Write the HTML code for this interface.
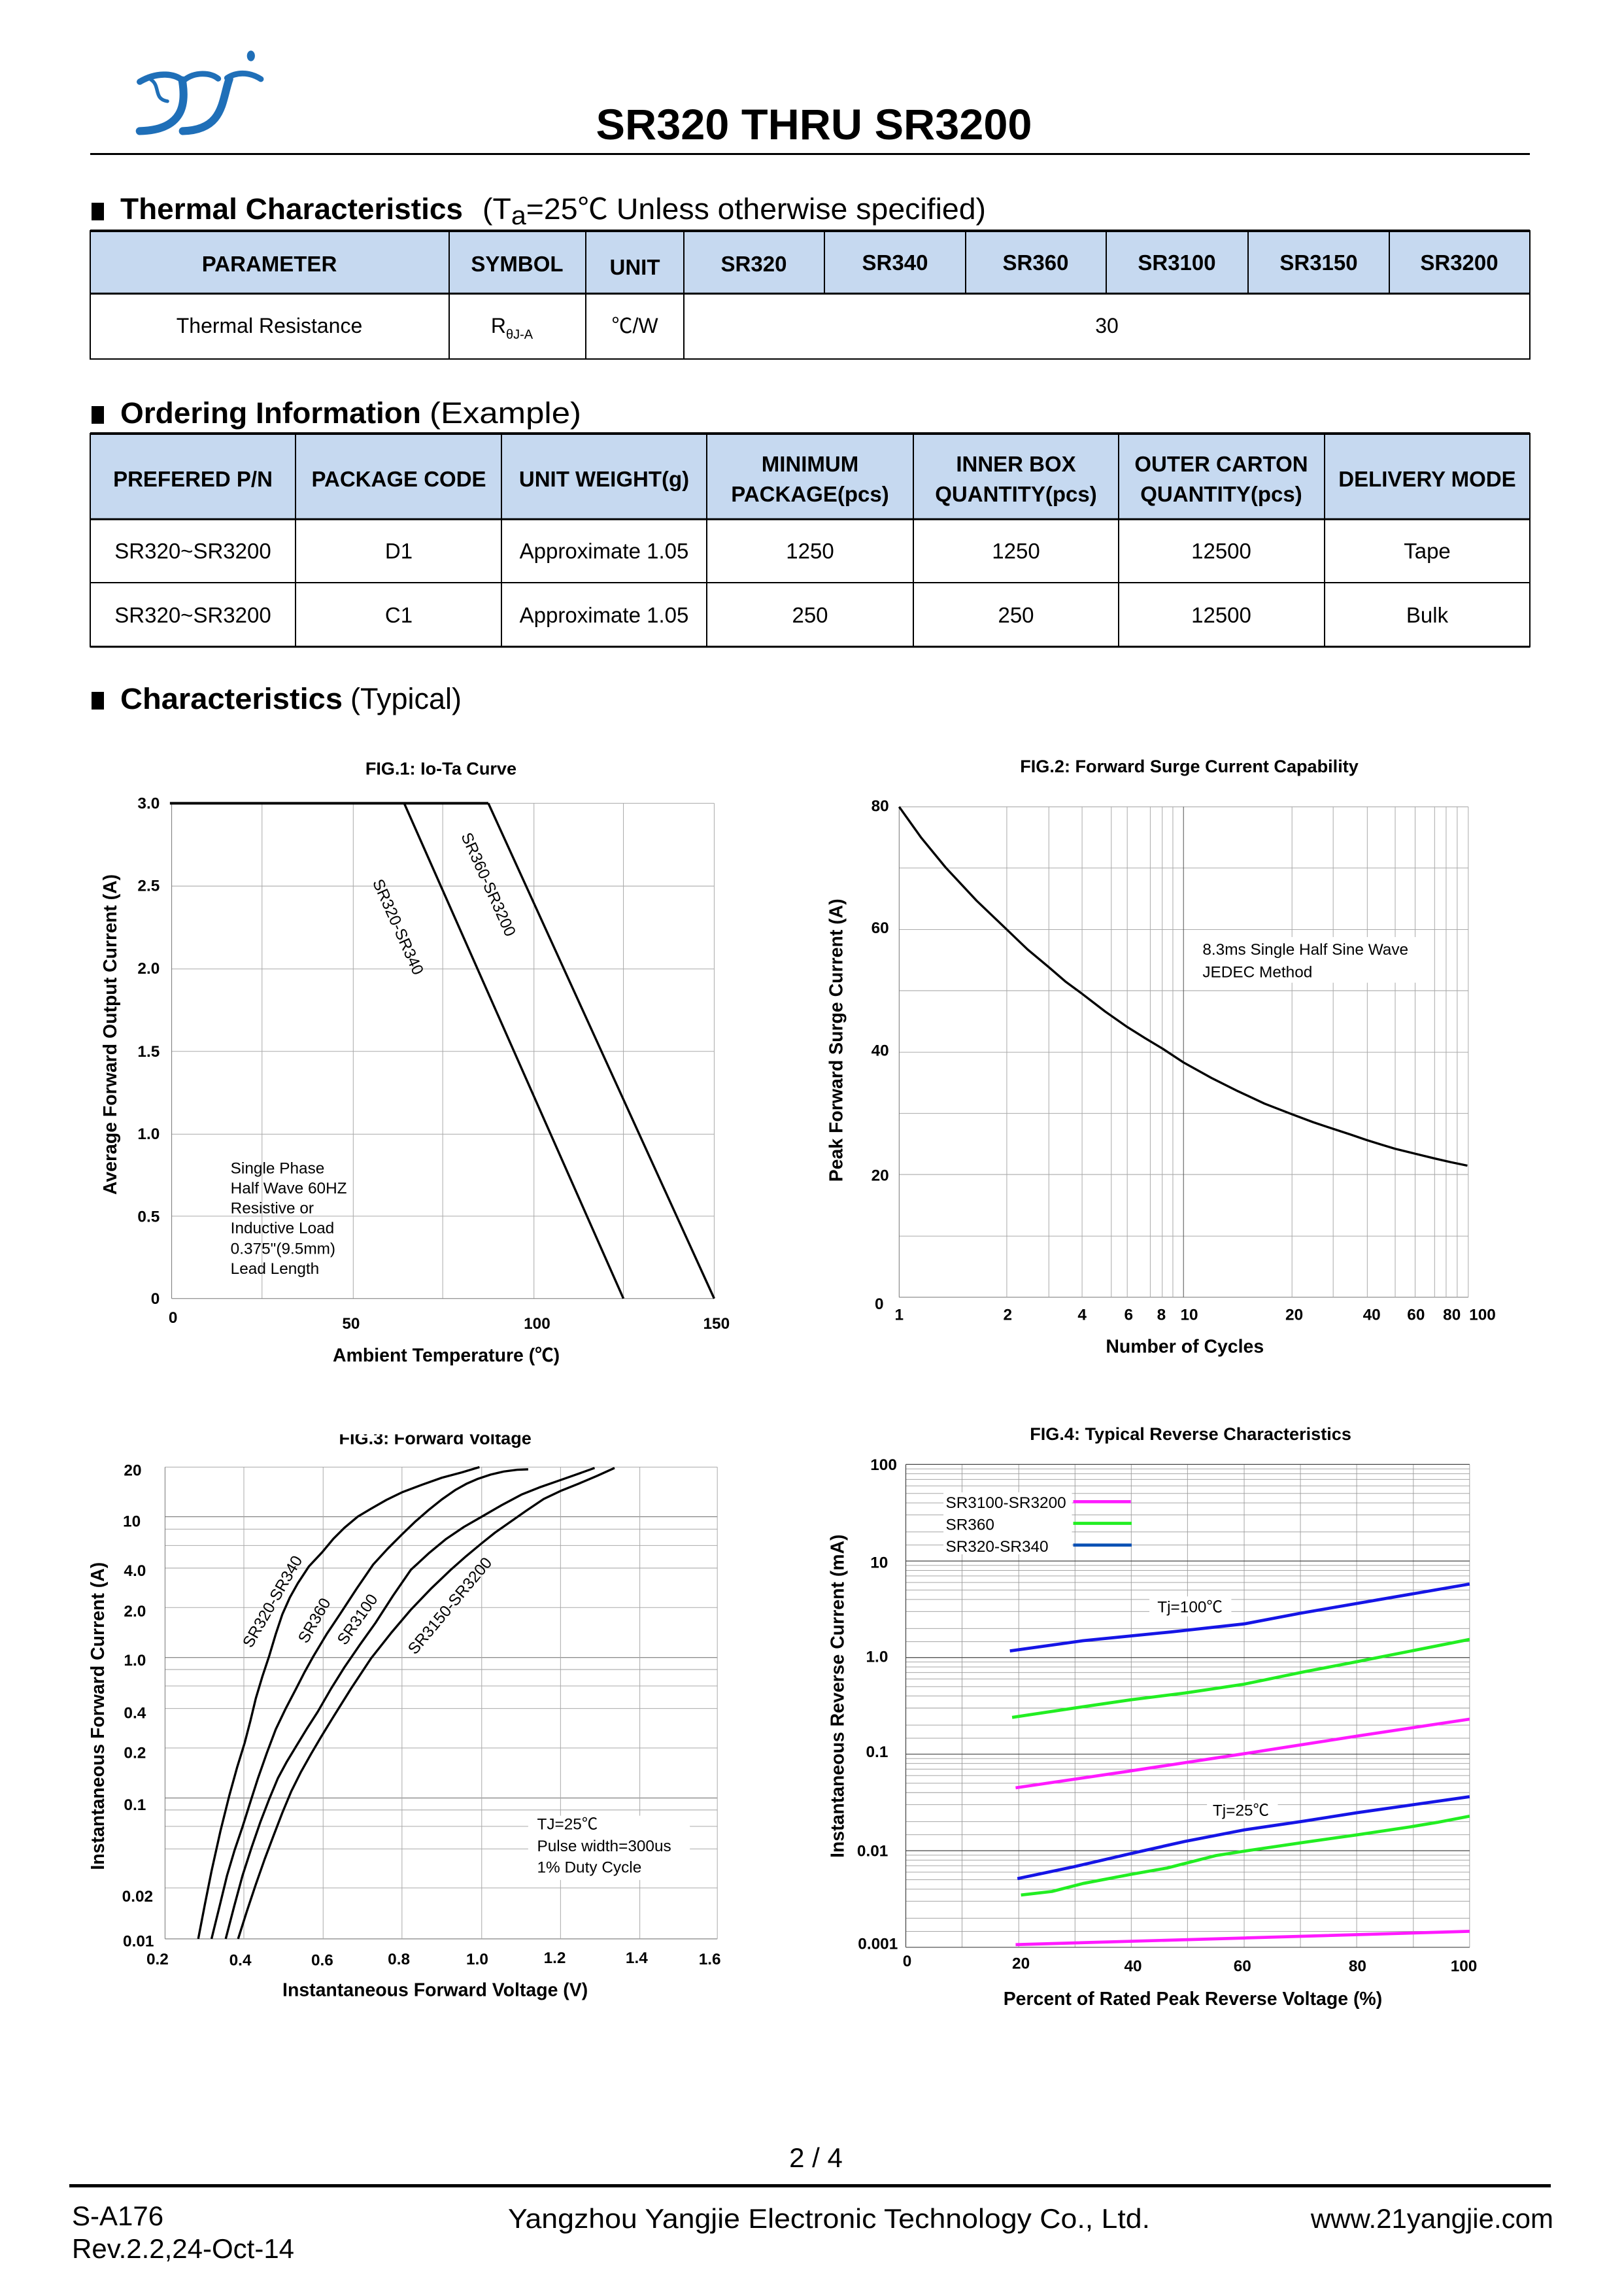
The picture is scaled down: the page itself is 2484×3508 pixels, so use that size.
<!DOCTYPE html>
<html><head><meta charset="utf-8"><style>
html,body{margin:0;padding:0;background:#fff;}
svg{display:block;}
text{font-family:"Liberation Sans","Noto Sans CJK SC",sans-serif;}
</style></head><body>
<svg width="2484" height="3508" viewBox="0 0 2484 3508" xmlns="http://www.w3.org/2000/svg">
<rect width="2484" height="3508" fill="#fff"/>

<!-- Logo -->
<g transform="translate(180,50) scale(0.338)" fill="none" stroke="#1f6fb8" stroke-linecap="round">
  <path d="M100,222 C170,180 250,180 292,215" stroke-width="28"/>
  <path d="M292,215 C310,320 300,440 100,445" stroke-width="36"/>
  <path d="M150,212 C195,240 160,300 225,310" stroke-width="16"/>
  <path d="M300,215 C350,175 420,180 455,208" stroke-width="26"/>
  <path d="M505,210 C470,310 480,440 295,445" stroke-width="36"/>
  <path d="M495,205 C550,170 610,185 648,210" stroke-width="26"/>
  <ellipse cx="603" cy="105" rx="18" ry="24" fill="#1f6fb8" stroke="none"/>
</g>

<!-- Title -->
<text x="1245" y="213" font-size="66" font-weight="bold" text-anchor="middle" textLength="667" lengthAdjust="spacingAndGlyphs">SR320 THRU SR3200</text>
<rect x="138" y="234" width="2202" height="3" fill="#000"/>

<!-- Thermal heading -->
<rect x="140" y="310" width="19" height="27" fill="#000"/>
<text x="184" y="335" font-size="45" font-weight="bold" textLength="524" lengthAdjust="spacingAndGlyphs">Thermal Characteristics</text>
<text x="738" y="335" font-size="45" textLength="770" lengthAdjust="spacingAndGlyphs">(T<tspan font-size="40" dy="8">a</tspan><tspan dy="-8">=25℃ Unless otherwise specified)</tspan></text>

<!-- Table 1 -->
<rect x="138" y="353" width="2202" height="96" fill="#c6d9f0"/>
<g stroke="#000" stroke-width="2" fill="none">
  <rect x="138" y="353" width="2202" height="196"/>
  <line x1="138" y1="353" x2="2340" y2="353" stroke-width="4"/>
  <line x1="138" y1="449" x2="2340" y2="449" stroke-width="3"/>
  <line x1="687" y1="353" x2="687" y2="549"/>
  <line x1="896" y1="353" x2="896" y2="549"/>
  <line x1="1046" y1="353" x2="1046" y2="549"/>
  <line x1="1261" y1="353" x2="1261" y2="449"/>
  <line x1="1477" y1="353" x2="1477" y2="449"/>
  <line x1="1692" y1="353" x2="1692" y2="449"/>
  <line x1="1909" y1="353" x2="1909" y2="449"/>
  <line x1="2125" y1="353" x2="2125" y2="449"/>
</g>
<g font-size="33" font-weight="bold" text-anchor="middle">
  <text x="412" y="415">PARAMETER</text>
  <text x="791" y="415">SYMBOL</text>
  <text x="971" y="420">UNIT</text>
  <text x="1153" y="415">SR320</text>
  <text x="1369" y="413">SR340</text>
  <text x="1584" y="413">SR360</text>
  <text x="1800" y="413">SR3100</text>
  <text x="2017" y="413">SR3150</text>
  <text x="2232" y="413">SR3200</text>
</g>
<g font-size="32" text-anchor="middle">
  <text x="412" y="509">Thermal Resistance</text>
  <text x="783" y="509">R<tspan font-size="20" dy="9">θJ-A</tspan></text>
  <text x="971" y="509">℃/W</text>
  <text x="1693" y="509">30</text>
</g>

<!-- Ordering heading -->
<rect x="140" y="621" width="19" height="27" fill="#000"/>
<text x="184" y="647" font-size="45" font-weight="bold" textLength="460" lengthAdjust="spacingAndGlyphs">Ordering Information</text>
<text x="657" y="647" font-size="45" textLength="232" lengthAdjust="spacingAndGlyphs">(Example)</text>

<!-- Table 2 -->
<rect x="138" y="663" width="2202" height="131" fill="#c6d9f0"/>
<g stroke="#000" stroke-width="2" fill="none">
  <rect x="138" y="663" width="2202" height="326"/>
  <line x1="138" y1="663" x2="2340" y2="663" stroke-width="4"/>
  <line x1="138" y1="794" x2="2340" y2="794" stroke-width="3"/>
  <line x1="138" y1="891" x2="2340" y2="891"/>
  <line x1="138" y1="989" x2="2340" y2="989" stroke-width="3"/>
  <line x1="452" y1="663" x2="452" y2="989"/>
  <line x1="767" y1="663" x2="767" y2="989"/>
  <line x1="1081" y1="663" x2="1081" y2="989"/>
  <line x1="1397" y1="663" x2="1397" y2="989"/>
  <line x1="1711" y1="663" x2="1711" y2="989"/>
  <line x1="2026" y1="663" x2="2026" y2="989"/>
</g>
<g font-size="33" font-weight="bold" text-anchor="middle">
  <text x="295" y="744">PREFERED P/N</text>
  <text x="610" y="744">PACKAGE CODE</text>
  <text x="924" y="744">UNIT WEIGHT(g)</text>
  <text x="1239" y="721">MINIMUM</text>
  <text x="1239" y="767">PACKAGE(pcs)</text>
  <text x="1554" y="721">INNER BOX</text>
  <text x="1554" y="767">QUANTITY(pcs)</text>
  <text x="1868" y="721">OUTER CARTON</text>
  <text x="1868" y="767">QUANTITY(pcs)</text>
  <text x="2183" y="744">DELIVERY MODE</text>
</g>
<g font-size="33" text-anchor="middle">
  <text x="295" y="854">SR320~SR3200</text>
  <text x="610" y="854">D1</text>
  <text x="924" y="854">Approximate 1.05</text>
  <text x="1239" y="854">1250</text>
  <text x="1554" y="854">1250</text>
  <text x="1868" y="854">12500</text>
  <text x="2183" y="854">Tape</text>
  <text x="295" y="952">SR320~SR3200</text>
  <text x="610" y="952">C1</text>
  <text x="924" y="952">Approximate 1.05</text>
  <text x="1239" y="952">250</text>
  <text x="1554" y="952">250</text>
  <text x="1868" y="952">12500</text>
  <text x="2183" y="952">Bulk</text>
</g>

<!-- Characteristics heading -->
<rect x="140" y="1058" width="19" height="27" fill="#000"/>
<text x="184" y="1084" font-size="45" font-weight="bold" textLength="340" lengthAdjust="spacingAndGlyphs">Characteristics</text>
<text x="536" y="1084" font-size="45" textLength="170" lengthAdjust="spacingAndGlyphs">(Typical)</text>

<!-- FIG 1 -->
<g transform="translate(100,1120) scale(0.67742)">
  <g stroke="#aaa" stroke-width="1.5">
    <line x1="444" y1="160" x2="444" y2="1278"/><line x1="650" y1="160" x2="650" y2="1278"/>
    <line x1="852" y1="160" x2="852" y2="1278"/><line x1="1058" y1="160" x2="1058" y2="1278"/>
    <line x1="1260" y1="160" x2="1260" y2="1278"/><line x1="1465" y1="160" x2="1465" y2="1278"/>
    <line x1="240" y1="160" x2="1465" y2="160"/><line x1="240" y1="347" x2="1465" y2="347"/>
    <line x1="240" y1="534" x2="1465" y2="534"/><line x1="240" y1="720" x2="1465" y2="720"/>
    <line x1="240" y1="907" x2="1465" y2="907"/><line x1="240" y1="1092" x2="1465" y2="1092"/>
    <line x1="240" y1="1278" x2="1465" y2="1278" stroke="#777"/>
    <line x1="240" y1="160" x2="240" y2="1278" stroke="#777"/>
  </g>
  <g stroke="#000" stroke-width="5" fill="none">
    <line x1="236" y1="160" x2="955" y2="160" stroke-width="6"/>
    <line x1="765" y1="160" x2="1260" y2="1278"/>
    <line x1="955" y1="160" x2="1465" y2="1278"/>
  </g>
  <text x="848" y="95" font-size="40" font-weight="bold" text-anchor="middle">FIG.1: Io-Ta Curve</text>
  <g font-size="36" font-weight="bold" text-anchor="end">
    <text x="213" y="172">3.0</text><text x="213" y="358">2.5</text><text x="213" y="545">2.0</text>
    <text x="213" y="732">1.5</text><text x="213" y="918">1.0</text><text x="213" y="1105">0.5</text>
    <text x="213" y="1290">0</text>
  </g>
  <g font-size="36" font-weight="bold" text-anchor="middle">
    <text x="243" y="1333">0</text><text x="645" y="1346">50</text><text x="1065" y="1346">100</text><text x="1470" y="1346">150</text>
  </g>
  <text x="860" y="1420" font-size="42" font-weight="bold" text-anchor="middle">Ambient Temperature (℃)</text>
  <text transform="translate(115,682) rotate(-90)" font-size="42" font-weight="bold" text-anchor="middle">Average Forward Output Current (A)</text>
  <g font-size="36">
    <text x="373" y="996">Single Phase</text><text x="373" y="1041">Half Wave 60HZ</text>
    <text x="373" y="1086">Resistive or</text><text x="373" y="1131">Inductive Load</text>
    <text x="373" y="1177">0.375"(9.5mm)</text><text x="373" y="1222">Lead Length</text>
  </g>
  <text transform="translate(893,233) rotate(66)" font-size="36">SR360-SR3200</text>
  <text transform="translate(693,338) rotate(66)" font-size="36">SR320-SR340</text>
</g>

<!-- FIG 2 -->
<g transform="translate(1250,1120) scale(0.67742)">
  <g stroke="#aaa" stroke-width="1.5">
    <line x1="185" y1="168" x2="1470" y2="168"/><line x1="185" y1="306" x2="1470" y2="306"/>
    <line x1="185" y1="445" x2="1470" y2="445"/><line x1="185" y1="583" x2="1470" y2="583"/>
    <line x1="185" y1="722" x2="1470" y2="722"/><line x1="185" y1="860" x2="1470" y2="860"/>
    <line x1="185" y1="998" x2="1470" y2="998"/><line x1="185" y1="1137" x2="1470" y2="1137"/>
    <line x1="185" y1="1275" x2="1470" y2="1275" stroke="#777"/>
    <line x1="185" y1="168" x2="185" y2="1275" stroke="#777"/>
    <line x1="428" y1="168" x2="428" y2="1275"/><line x1="523" y1="168" x2="523" y2="1275"/>
    <line x1="598" y1="168" x2="598" y2="1275"/><line x1="664" y1="168" x2="664" y2="1275"/>
    <line x1="700" y1="168" x2="700" y2="1275"/><line x1="752" y1="168" x2="752" y2="1275"/>
    <line x1="779" y1="168" x2="779" y2="1275"/><line x1="803" y1="168" x2="803" y2="1275"/>
    <line x1="827" y1="168" x2="827" y2="1275" stroke="#555"/>
    <line x1="1072" y1="168" x2="1072" y2="1275"/><line x1="1165" y1="168" x2="1165" y2="1275"/>
    <line x1="1242" y1="168" x2="1242" y2="1275"/><line x1="1305" y1="168" x2="1305" y2="1275"/>
    <line x1="1350" y1="168" x2="1350" y2="1275"/><line x1="1394" y1="168" x2="1394" y2="1275"/>
    <line x1="1420" y1="168" x2="1420" y2="1275"/><line x1="1445" y1="168" x2="1445" y2="1275"/>
    <line x1="1470" y1="168" x2="1470" y2="1275"/>
  </g>
  <rect x="862" y="462" width="530" height="103" fill="#fff"/>
  <polyline points="185,168 235,238 290,305 360,380 428,445 475,490 523,530 560,562 598,590 650,630 700,665 740,690 780,714 827,745 890,780 950,810 1010,838 1072,862 1120,880 1165,895 1205,908 1240,920 1275,931 1305,940 1350,951 1395,962 1430,970 1468,978" stroke="#000" stroke-width="5" fill="none" stroke-linejoin="round"/>
  <text x="840" y="90" font-size="40" font-weight="bold" text-anchor="middle">FIG.2: Forward Surge Current Capability</text>
  <g font-size="36" font-weight="bold" text-anchor="end">
    <text x="162" y="178">80</text><text x="162" y="453">60</text><text x="162" y="730">40</text>
    <text x="162" y="1012">20</text><text x="150" y="1302">0</text>
  </g>
  <g font-size="36" font-weight="bold" text-anchor="middle">
    <text x="185" y="1326">1</text><text x="430" y="1326">2</text><text x="598" y="1326">4</text>
    <text x="703" y="1326">6</text><text x="777" y="1326">8</text><text x="840" y="1326">10</text>
    <text x="1077" y="1326">20</text><text x="1252" y="1326">40</text><text x="1352" y="1326">60</text>
    <text x="1433" y="1326">80</text><text x="1502" y="1326">100</text>
  </g>
  <text x="830" y="1400" font-size="42" font-weight="bold" text-anchor="middle">Number of Cycles</text>
  <text transform="translate(57,695) rotate(-90)" font-size="42" font-weight="bold" text-anchor="middle">Peak Forward Surge Current (A)</text>
  <text x="870" y="502" font-size="36">8.3ms Single Half Sine Wave</text>
  <text x="870" y="553" font-size="36">JEDEC Method</text>
</g>

<!-- FIG 3 -->
<g transform="translate(100,2150) scale(0.67742)">
  <defs><clipPath id="c3"><rect x="0" y="64" width="1550" height="1500"/></clipPath></defs>
  <g stroke="#aaa" stroke-width="1.5">
    <line x1="225" y1="138" x2="1472" y2="138"/>
    <line x1="225" y1="250" x2="1472" y2="250" stroke="#666"/>
    <line x1="225" y1="278" x2="1472" y2="278"/><line x1="225" y1="315" x2="1472" y2="315"/>
    <line x1="225" y1="366" x2="1472" y2="366"/><line x1="225" y1="455" x2="1472" y2="455"/>
    <line x1="225" y1="568" x2="1472" y2="568" stroke="#666"/>
    <line x1="225" y1="595" x2="1472" y2="595"/><line x1="225" y1="632" x2="1472" y2="632"/>
    <line x1="225" y1="683" x2="1472" y2="683"/><line x1="225" y1="772" x2="1472" y2="772"/>
    <line x1="225" y1="885" x2="1472" y2="885" stroke="#666"/>
    <line x1="225" y1="912" x2="1472" y2="912"/><line x1="225" y1="949" x2="1472" y2="949"/>
    <line x1="225" y1="1000" x2="1472" y2="1000"/><line x1="225" y1="1088" x2="1472" y2="1088"/>
    <line x1="225" y1="1203" x2="1472" y2="1203" stroke="#777"/>
    <line x1="225" y1="138" x2="225" y2="1203" stroke="#777"/>
    <line x1="403" y1="138" x2="403" y2="1203"/><line x1="582" y1="138" x2="582" y2="1203"/>
    <line x1="760" y1="138" x2="760" y2="1203"/><line x1="940" y1="138" x2="940" y2="1203"/>
    <line x1="1118" y1="138" x2="1118" y2="1203"/><line x1="1297" y1="138" x2="1297" y2="1203"/>
    <line x1="1472" y1="138" x2="1472" y2="1203"/>
  </g>
  <rect x="1045" y="925" width="365" height="145" fill="#fff"/>
  <g stroke="#000" stroke-width="5" fill="none" stroke-linejoin="round">
    <polyline points="300,1203 315,1125 330,1050 350,960 370,880 388,815 405,760 418,710 430,660 445,610 460,565 475,515 490,470 507,432 525,400 550,362 580,330 605,300 630,275 660,250 690,232 725,212 760,195 805,178 850,162 895,150 935,138"/>
    <polyline points="330,1203 348,1130 365,1060 382,1003 400,950 418,893 435,840 455,783 475,730 497,684 520,640 540,601 560,565 590,515 620,470 658,412 695,358 728,322 760,290 790,261 820,235 850,211 880,190 905,176 930,165 960,155 990,148 1020,144 1045,143"/>
    <polyline points="362,1203 381,1130 400,1060 420,998 440,940 460,888 480,840 500,803 520,770 545,729 570,690 600,638 630,590 665,539 700,490 740,428 780,370 820,333 860,300 900,273 940,250 985,224 1030,200 1070,184 1110,170 1150,156 1195,140"/>
    <polyline points="390,1203 410,1140 430,1080 450,1023 470,970 490,918 510,870 532,826 555,785 578,746 600,710 645,638 690,570 735,513 780,460 825,413 870,370 905,339 940,310 970,286 1000,265 1040,237 1080,210 1120,191 1160,175 1200,158 1240,140"/>
  </g>
  <text x="835" y="86" font-size="40" font-weight="bold" text-anchor="middle" clip-path="url(#c3)">FIG.3: Forward  Voltage</text>
  <g font-size="36" font-weight="bold" text-anchor="end">
    <text x="172" y="157">20</text><text x="170" y="272">10</text><text x="182" y="384">4.0</text>
    <text x="182" y="475">2.0</text><text x="182" y="586">1.0</text><text x="182" y="705">0.4</text>
    <text x="182" y="795">0.2</text><text x="182" y="912">0.1</text><text x="198" y="1119">0.02</text>
    <text x="200" y="1220">0.01</text>
  </g>
  <g font-size="36" font-weight="bold" text-anchor="middle">
    <text x="208" y="1261">0.2</text><text x="395" y="1263">0.4</text><text x="580" y="1263">0.6</text>
    <text x="753" y="1261">0.8</text><text x="930" y="1261">1.0</text><text x="1105" y="1258">1.2</text>
    <text x="1290" y="1258">1.4</text><text x="1455" y="1261">1.6</text>
  </g>
  <text x="835" y="1332" font-size="42" font-weight="bold" text-anchor="middle">Instantaneous Forward Voltage (V)</text>
  <text transform="translate(87,700) rotate(-90)" font-size="42" font-weight="bold" text-anchor="middle">Instantaneous Forward Current (A)</text>
  <g font-size="36">
    <text transform="translate(420,548) rotate(-60)">SR320-SR340</text>
    <text transform="translate(545,538) rotate(-60)">SR360</text>
    <text transform="translate(632,542) rotate(-55)">SR3100</text>
    <text transform="translate(790,563) rotate(-50)">SR3150-SR3200</text>
  </g>
  <g font-size="36">
    <text x="1065" y="956">TJ=25℃</text>
    <text x="1065" y="1005">Pulse width=300us</text>
    <text x="1065" y="1053">1% Duty Cycle</text>
  </g>
</g>

<!-- FIG 4 -->
<g transform="translate(1250,2150) scale(0.67742)">
  <path stroke="#999" stroke-width="1.3" fill="none" d="
M200,1156.4H1473M200,1118H1473M200,1090.8H1473M200,1069.6H1473M200,1052.4H1473M200,1037.8H1473M200,1025.1H1473M200,1014H1473
M200,938.4H1473M200,900H1473M200,872.8H1473M200,851.6H1473M200,834.4H1473M200,819.8H1473M200,807.1H1473M200,796H1473
M200,720.4H1473M200,682H1473M200,654.8H1473M200,633.6H1473M200,616.4H1473M200,601.8H1473M200,589.1H1473M200,578H1473
M200,502.4H1473M200,464H1473M200,436.8H1473M200,415.6H1473M200,398.4H1473M200,383.8H1473M200,371.1H1473M200,360H1473
M200,284.4H1473M200,246H1473M200,218.8H1473M200,197.6H1473M200,180.4H1473M200,165.8H1473M200,153.1H1473M200,142H1473
M200,1186H1473M200,968H1473M200,750H1473M200,532H1473M200,314H1473
M327,132V1222M455,132V1222M582,132V1222M709,132V1222M836,132V1222M964,132V1222M1091,132V1222M1218,132V1222M1346,132V1222M1473,132V1222"/>
  <path stroke="#444" stroke-width="1.8" fill="none" d="M200,132H1473M200,350H1473M200,568H1473M200,786H1473M200,1004H1473M200,1222H1473M200,132V1222"/>
  <rect x="750" y="430" width="185" height="45" fill="#fff"/>
  <rect x="880" y="890" width="160" height="45" fill="#fff"/>
  <rect x="285" y="195" width="290" height="140" fill="#fff"/>
  <g fill="none" stroke-width="7" stroke-linejoin="round">
    <polyline stroke="#1515e6" points="435,553 600,530 800,510 964,492 1090,468 1473,402"/>
    <polyline stroke="#22ee22" points="440,703 580,682 710,663 830,648 964,628 1100,600 1220,577 1473,527"/>
    <polyline stroke="#ff1aff" points="448,862 700,825 964,785 1220,745 1473,707"/>
    <polyline stroke="#1515e6" points="452,1067 580,1040 710,1010 830,983 964,957 1100,937 1220,918 1473,882"/>
    <polyline stroke="#22ee22" points="460,1104 530,1096 600,1078 710,1057 790,1043 900,1015 964,1005 1100,985 1220,968 1340,950 1400,940 1473,926"/>
    <polyline stroke="#ff1aff" points="448,1216 964,1201 1473,1186"/>
    <line x1="578" y1="216" x2="708" y2="216" stroke="#ff1aff"/>
    <line x1="578" y1="265" x2="710" y2="265" stroke="#22ee22"/>
    <line x1="578" y1="314" x2="710" y2="314" stroke="#0a50b4"/>
  </g>
  <g font-size="36">
    <text x="290" y="230">SR3100-SR3200</text>
    <text x="290" y="280">SR360</text>
    <text x="290" y="329">SR320-SR340</text>
    <text x="768" y="466">Tj=100℃</text>
    <text x="893" y="925">Tj=25℃</text>
  </g>
  <text x="843" y="77" font-size="40" font-weight="bold" text-anchor="middle">FIG.4: Typical Reverse Characteristics</text>
  <g font-size="36" font-weight="bold" text-anchor="end">
    <text x="180" y="145">100</text><text x="160" y="365">10</text><text x="160" y="578">1.0</text>
    <text x="160" y="793">0.1</text><text x="160" y="1016">0.01</text><text x="182" y="1226">0.001</text>
  </g>
  <g font-size="36" font-weight="bold" text-anchor="middle">
    <text x="203" y="1265">0</text><text x="460" y="1270">20</text><text x="713" y="1276">40</text>
    <text x="960" y="1276">60</text><text x="1220" y="1276">80</text><text x="1460" y="1276">100</text>
  </g>
  <text x="848" y="1352" font-size="42" font-weight="bold" text-anchor="middle">Percent of Rated Peak Reverse Voltage (%)</text>
  <text transform="translate(60,655) rotate(-90)" font-size="42" font-weight="bold" text-anchor="middle">Instantaneous Reverse Current (mA)</text>
</g>

<!-- Footer -->
<text x="1248" y="3314" font-size="42" text-anchor="middle">2 / 4</text>
<rect x="106" y="3340" width="2266" height="5" fill="#000"/>
<text x="110" y="3403" font-size="42">S-A176</text>
<text x="110" y="3453" font-size="42">Rev.2.2,24-Oct-14</text>
<text x="777" y="3407" font-size="42" textLength="982" lengthAdjust="spacingAndGlyphs">Yangzhou Yangjie Electronic Technology Co., Ltd.</text>
<text x="2376" y="3407" font-size="42" text-anchor="end">www.21yangjie.com</text>
</svg>
</body></html>
